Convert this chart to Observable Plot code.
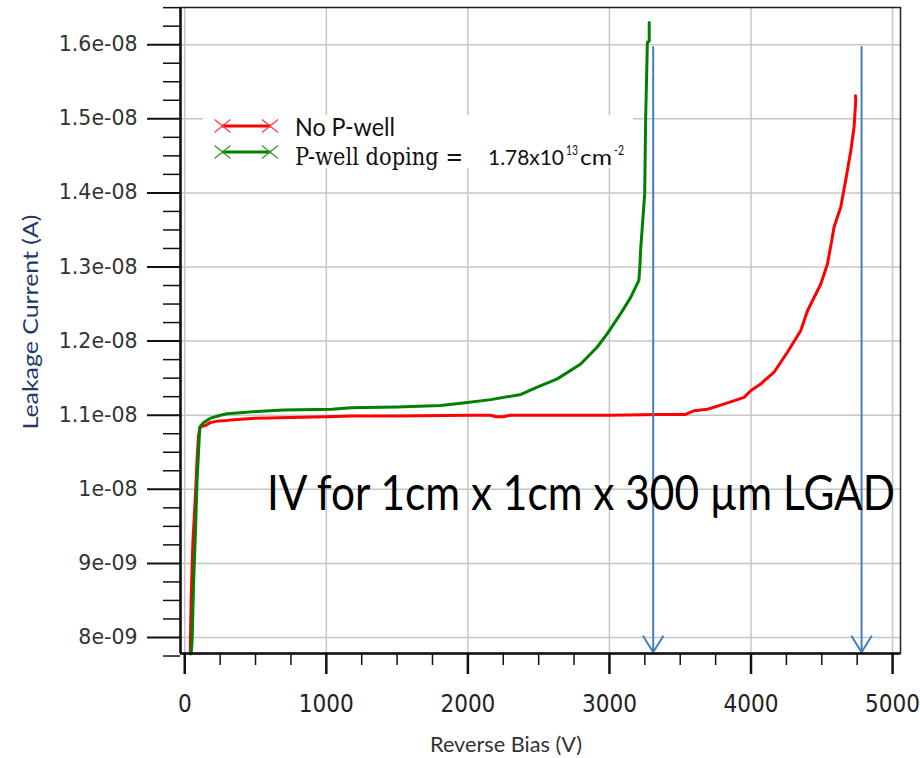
<!DOCTYPE html>
<html><head><meta charset="utf-8">
<script src="https://cdn.jsdelivr.net/npm/d3@7"></script>
<script src="https://cdn.jsdelivr.net/npm/@observablehq/plot@0.6"></script>
<style>html,body{margin:0;padding:0;background:#fff;}</style>
</head><body><div id="chart"></div>
<script>
// Reverse bias (V) and leakage current (nA)
const redV = [40, 40, 45, 52, 58, 66, 75, 87, 97, 106, 120, 146, 180, 229, 300, 346, 500, 747, 1000, 1171, 1500, 2000, 2160, 2200, 2250, 2300, 2600, 3000, 3362, 3538, 3597, 3692, 3774, 3856, 3951, 3998, 4068, 4163, 4257, 4351, 4399, 4493, 4540, 4565, 4587, 4634, 4669, 4705, 4728, 4740, 4738];
const redI = [7.78, 7.96, 8.5, 8.95, 9.3, 9.58, 9.9, 10.4, 10.72, 10.82, 10.85, 10.86, 10.9, 10.92, 10.93, 10.94, 10.96, 10.97, 10.98, 10.99, 10.99, 11.0, 11.0, 10.98, 10.98, 11.0, 11.0, 11.0, 11.01, 11.01, 11.06, 11.08, 11.13, 11.18, 11.24, 11.33, 11.42, 11.58, 11.85, 12.14, 12.41, 12.77, 13.04, 13.3, 13.54, 13.81, 14.17, 14.57, 14.89, 15.25, 15.31];
const greenV = [45, 52, 63, 76, 87, 99, 106, 134, 182, 252, 300, 511, 698, 1041, 1171, 1500, 1807, 1951, 2163, 2375, 2490, 2632, 2797, 2914, 2985, 3079, 3150, 3208, 3216, 3220, 3249, 3256, 3268, 3281, 3281];
const greenI = [7.78, 7.96, 8.77, 9.44, 10.12, 10.57, 10.84, 10.90, 10.96, 11.0, 11.02, 11.05, 11.07, 11.08, 11.10, 11.11, 11.13, 11.16, 11.21, 11.28, 11.38, 11.49, 11.69, 11.92, 12.10, 12.37, 12.59, 12.82, 13.04, 13.22, 13.99, 15.02, 16.03, 16.05, 16.30];
const seriesNames = ["No P-well", "P-well doping ="];
const seriesColors = ["#ff0000", "#008000"];
const xTicks = [0, 1000, 2000, 3000, 4000, 5000];
const yTicks = [8e-9, 9e-9, 1e-8, 1.1e-8, 1.2e-8, 1.3e-8, 1.4e-8, 1.5e-8, 1.6e-8];
const arrowV = [3309, 4781];
const arrowTopI = 15.97e-9, arrowBottomI = 7.8e-9;
const xDomain = [-30, 5056];
const yDomain = [7.784e-9, 16.502e-9];

const redData = redV.map((v, i) => ({V: v, I: redI[i] * 1e-9}));
const greenData = greenV.map((v, i) => ({V: v, I: greenI[i] * 1e-9}));
const yMinor = d3.range(0, 36).filter(i => i % 4 !== 1).map(i => 7.75e-9 + i * 0.25e-9);
const xMinor = d3.range(0, 5001, 250).filter(v => v % 1000 !== 0);
const fmt = v => { const [m, e] = v.toExponential().split("e"); const n = +e; return m + "e" + (n < 0 ? "-" : "+") + String(Math.abs(n)).padStart(2, "0"); };

const plot = Plot.plot({
  width: 920, height: 758,
  marginLeft: 180, marginRight: 20, marginTop: 7, marginBottom: 105,
  x: {domain: xDomain, label: null},
  y: {domain: yDomain, label: null},
  style: {fontFamily: "DejaVu Sans", background: "#fff", overflow: "visible"},
  marks: [
    Plot.gridX(xTicks, {stroke: "#c6c6c6", strokeOpacity: 1, strokeWidth: 1.5}),
    Plot.gridY(yTicks, {stroke: "#c6c6c6", strokeOpacity: 1, strokeWidth: 1.5}),
    Plot.line(redData, {x: "V", y: "I", stroke: seriesColors[0], strokeWidth: 3}),
    Plot.line(greenData, {x: "V", y: "I", stroke: seriesColors[1], strokeWidth: 3}),
    Plot.arrow(arrowV, {x1: d => d, x2: d => d, y1: () => arrowTopI, y2: () => arrowBottomI, stroke: "#4a7ebb", strokeWidth: 2, headLength: 14, headAngle: 63}),
    Plot.frame({stroke: "#222", strokeWidth: 1.5}),
    Plot.ruleX([xDomain[0]], {stroke: "#111", strokeWidth: 2.5}),
    Plot.ruleY([yDomain[0]], {stroke: "#111", strokeWidth: 2.5}),
    Plot.axisY(yTicks, {anchor: "left", tickSize: 33, tickPadding: 10, tickFormat: fmt, fontSize: 20.5, fontFamily: "DejaVu Sans", color: "#333", stroke: "#111", strokeWidth: 2}),
    Plot.axisY(yMinor, {anchor: "left", tickSize: 17, tickFormat: () => "", stroke: "#111", strokeWidth: 1.5}),
    Plot.axisX(xTicks, {anchor: "bottom", tickSize: 21, tickPadding: 20, tickFormat: d => String(d), fontSize: 24, fontFamily: "Liberation Sans Narrow, DejaVu Sans Condensed, sans-serif", color: "#222", stroke: "#111", strokeWidth: 2.5}),
    Plot.axisX(xMinor, {anchor: "bottom", tickSize: 12, tickFormat: () => "", stroke: "#111", strokeWidth: 1.5})
  ]
});
document.getElementById("chart").appendChild(plot);
const svg = d3.select(plot);

function txt(s, x, y, o) {
  const t = svg.append("text").attr("x", x).attr("y", y).text(s)
    .attr("font-family", o.family || "Lato").attr("font-size", o.size).attr("fill", o.fill || "#111")
    .attr("text-anchor", o.anchor || "start");
  if (o.len) t.attr("textLength", o.len).attr("lengthAdjust", "spacingAndGlyphs");
  if (o.transform) t.attr("transform", o.transform);
  return t;
}

// Annotation
txt("IV for 1cm x 1cm x 300 µm LGAD", 267, 510, {size: 48, len: 628, fill: "#000"});

// Axis titles
txt("Reverse Bias (V)", 430, 752, {size: 21, len: 152, fill: "#333"});
txt("Leakage Current (A)", 0, 0, {size: 22, len: 215, fill: "#1f3a68", anchor: "middle", transform: "translate(38,322) rotate(-90)"});

// Legend
const lg = svg.append("g");
lg.append("rect").attr("x", 203).attr("y", 115).attr("width", 430).attr("height", 53).attr("fill", "#fff");
[[126, seriesColors[0], "#ff3b3b"], [152, seriesColors[1], "#2f9a2f"]].forEach(([y, c, cm]) => {
  lg.append("line").attr("x1", 222).attr("x2", 271).attr("y1", y).attr("y2", y).attr("stroke", c).attr("stroke-width", 3);
  [222.5, 270].forEach(cx => {
    lg.append("path").attr("d", `M${cx-8},${y-6.5}L${cx+8},${y+6.5}M${cx-8},${y+6.5}L${cx+8},${y-6.5}`)
      .attr("stroke", cm).attr("stroke-width", 1.2).attr("fill", "none");
  });
});
txt(seriesNames[0], 295, 136, {size: 25, len: 100});
txt(seriesNames[1], 295, 165, {size: 25, len: 168, family: "DejaVu Serif"});
const dop = svg.append("text").attr("x", 488).attr("y", 165).attr("font-family", "Lato").attr("fill", "#111").attr("text-anchor", "start").attr("font-size", 22);
dop.append("tspan").attr("x", 488).attr("y", 165).attr("textLength", 76).attr("lengthAdjust", "spacingAndGlyphs").text("1.78x10");
dop.append("tspan").attr("x", 566).attr("y", 155).attr("font-size", 13).attr("textLength", 12).attr("lengthAdjust", "spacingAndGlyphs").text("13");
dop.append("tspan").attr("x", 580).attr("y", 165).attr("textLength", 32).attr("lengthAdjust", "spacingAndGlyphs").text("cm");
dop.append("tspan").attr("x", 614).attr("y", 155).attr("font-size", 13).attr("textLength", 10).attr("lengthAdjust", "spacingAndGlyphs").text("-2");
</script></body></html>
